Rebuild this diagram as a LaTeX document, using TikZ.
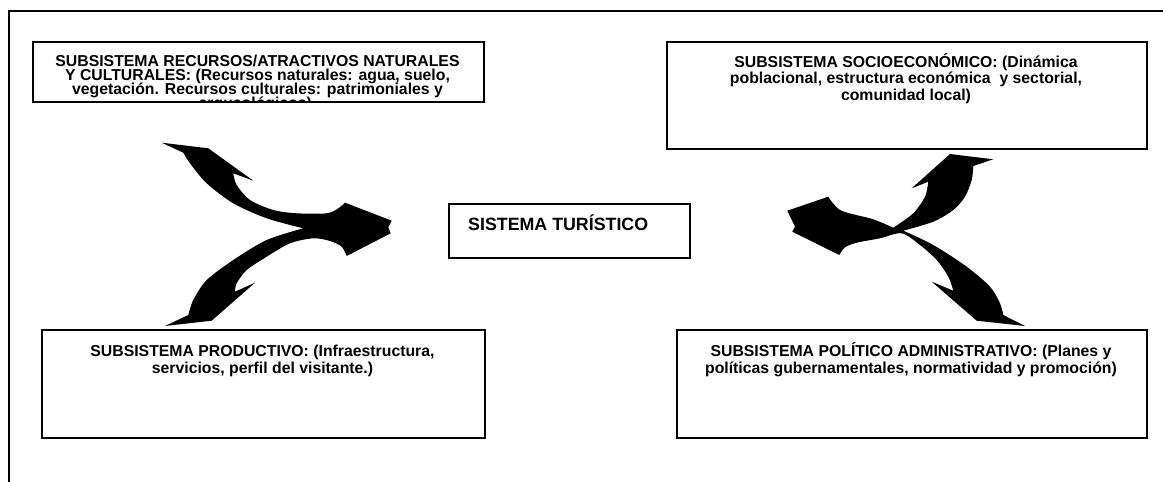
\documentclass[tikz,border=0pt]{standalone}
\usepackage{fontspec}
\setmainfont{Liberation Sans}
\newcommand\mytightlines{\lineskiplimit=-50pt\relax\lineskip=0pt\relax}
\begin{document}
\begin{tikzpicture}[x=1pt,y=-1pt,
  frame/.style={line width=2pt,black},
  sbox/.style={draw=black,line width=1.9pt,inner sep=0pt,anchor=north west},
  btext/.style={anchor=base,align=center,inner sep=0pt,font=\fontsize{15.8}{16.5}\selectfont\bfseries},
  arrowfill/.style={fill=black}]
\useasboundingbox (0,0) rectangle (1163,482);
\coordinate (fa) at (8.5,10.5);
\coordinate (fb) at (1163,10.5);
\coordinate (fc) at (8.5,482);
\draw[frame] (fc) -- (fa) -- (fb);
% boxes
\node[sbox,minimum width=451pt,minimum height=60pt] (b1) at (32,41) {};
\node[sbox,minimum width=480pt,minimum height=107pt] (b2) at (666,41) {};
\node[sbox,minimum width=443pt,minimum height=108pt] (b3) at (41,329) {};
\node[sbox,minimum width=470pt,minimum height=108pt] (b4) at (676,329) {};
\node[sbox,minimum width=241pt,minimum height=54pt] (bc) at (448,203) {};
% texts (base anchor = baseline of last line)
\begin{scope}
\clip (33,42) rectangle (482,100);
\node[btext,font=\fontsize{15.8}{14.2}\selectfont\bfseries\mytightlines] (t1) at (257.5,108.6) {SUBSISTEMA RECURSOS/ATRACTIVOS NATURALES\\Y CULTURALES: (Recursos naturales: agua, suelo,\\vegetación. Recursos culturales: patrimoniales y\\arqueológicos).};
\end{scope}
\node[btext] (t2) at (906,100) {SUBSISTEMA SOCIOECONÓMICO: (Dinámica\\poblacional, estructura económica\ \ y sectorial,\\comunidad local)};
\node[btext] (t3) at (262.5,373.2) {SUBSISTEMA PRODUCTIVO: (Infraestructura,\\servicios, perfil del visitante.)};
\node[btext] (t4) at (911,373.2) {SUBSISTEMA POLÍTICO ADMINISTRATIVO: (Planes y\\políticas gubernamentales, normatividad y promoción)};
\node[anchor=base west,inner sep=0pt,font=\fontsize{17.8}{20}\selectfont\bfseries] (tc) at (468,230.7) {SISTEMA TURÍSTICO};
% left curved arrows
\fill[arrowfill] (161.7,142.7) -- (208.3,148.3) -- (253.3,180.7) -- (233.3,173.3)
 -- plot[smooth] coordinates {(233.3,173.3) (236.7,185) (250,200) (273.3,210) (296.7,213.3) (326.7,213.3) (338.3,208.3) (345,202.7)}
 -- (391.7,220.7) -- (388.3,227.3) -- (390.7,233.3) -- (346.7,256)
 -- plot[smooth] coordinates {(346.7,256) (341.7,246.7) (330,241) (313.3,238.3) (290,243.3) (266.7,256.7) (246.7,270) (236.7,283.3) (235,291.7)}
 -- (255,282.7) -- (211.7,320.7) -- (165,326) -- (188.3,315)
 -- plot[smooth] coordinates {(188.3,315) (193.3,300) (206.7,280) (233.3,260) (266.7,240) (303.3,228.3)}
 -- plot[smooth] coordinates {(303.3,228.3) (266.7,218.3) (233.3,203.3) (206.7,183.3) (190,163.3) (183.3,152.7)}
 -- cycle;
% right curved arrows
\fill[arrowfill] (828.3,196.7) -- (787.3,210.7) -- (795,226.7) -- (792.3,231.7) -- (839.3,255)
 -- plot[smooth] coordinates {(839.3,255) (845,247.3) (856.7,242.7) (880,238.3) (901.7,233.3) (920,245) (936.7,260) (948.3,276.7) (953.3,290.7)}
 -- (931.7,281.7) -- (976.7,320.7) -- (1025,326) -- (1003.3,315)
 -- plot[smooth] coordinates {(1003.3,315) (1000,303.3) (990,286.7) (966.7,266.7) (933.3,245) (903.3,230.7)}
 -- plot[smooth] coordinates {(903.3,230.7) (933.3,221.7) (953.3,210) (965,196.7) (971.7,180) (973.3,166)}
 -- (993.3,159.3) -- (950,154) -- (911.7,188.3) -- (928.3,181.7)
 -- plot[smooth] coordinates {(928.3,181.7) (925,196.7) (913.3,213.3) (893.3,227.7)}
 -- plot[smooth] coordinates {(893.3,227.7) (873.3,219.3) (853.3,214.3) (840,210) (831.7,201.7) (828.3,196.7)}
 -- cycle;
\end{tikzpicture}
\end{document}
